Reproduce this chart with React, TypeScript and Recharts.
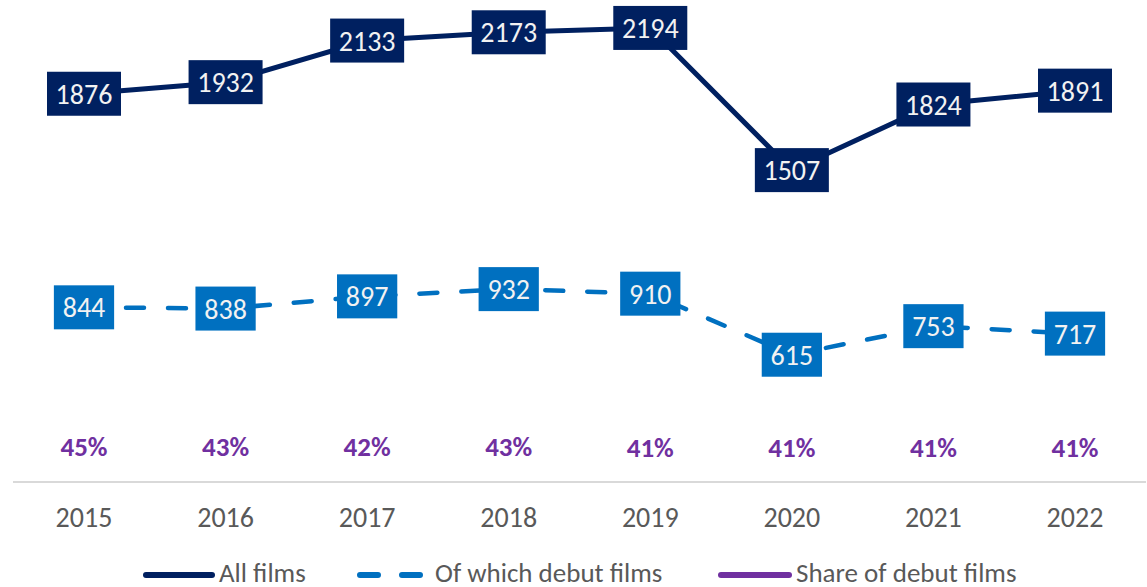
import React from 'react';
import { LineChart, Line, XAxis, YAxis, LabelList } from 'recharts';

// Film counts per year, with the debut share shown as a label row.
const years = ['2015', '2016', '2017', '2018', '2019', '2020', '2021', '2022'];
const allFilms = [1876, 1932, 2133, 2173, 2194, 1507, 1824, 1891];
const debutFilms = [844, 838, 897, 932, 910, 615, 753, 717];
const debutShare = [45, 43, 42, 43, 41, 41, 41, 41];

const NAVY = '#002060';
const BLUE = '#0070C0';
const PURPLE = '#7030A0';
const GREY = '#595959';
const FONT = 'Carlito, Lato, "Open Sans", sans-serif';

const data = years.map((year, i) => ({
  year,
  all: allFilms[i],
  debut: debutFilms[i],
  share: debutShare[i],
}));

const boxLabel = (fill: string) => (props: any) => {
  const { x, y, value } = props;
  const text = String(value);
  const w = text.length * 13.75 + 19;
  const h = 44;
  return (
    <g>
      <rect x={x - w / 2} y={y - h / 2} width={w} height={h} fill={fill} />
      <text
        x={x}
        y={y}
        dy={10}
        textAnchor="middle"
        fill="#f2f2f2"
        fontSize={28}
        fontFamily={FONT}
      >
        {text}
      </text>
    </g>
  );
};

const shareLabel = (props: any) => {
  const { x, y, value } = props;
  return (
    <text
      x={x}
      y={y - 17}
      textAnchor="middle"
      fill={PURPLE}
      fontSize={27}
      fontWeight={700}
      fontFamily={FONT}
    >
      {`${value}%`}
    </text>
  );
};

// legend drawn by hand so it does not eat into the plot area
const Legend: React.FC = () => (
  <svg style={{ position: 'absolute', left: 0, top: 0 }} width={1147} height={587}>
    <g fontFamily={FONT} fontSize={27} fill={GREY}>
      <line x1={146} y1={575} x2={212} y2={575} stroke={NAVY} strokeWidth={6} strokeLinecap="round" />
      <text x={219} y={582}>All films</text>
      <line x1={360} y1={575} x2={424} y2={575} stroke={BLUE} strokeWidth={6} strokeLinecap="round" strokeDasharray="18 24" />
      <text x={435} y={582}>Of which debut films</text>
      <line x1={721} y1={575} x2={789} y2={575} stroke={PURPLE} strokeWidth={6} strokeLinecap="round" />
      <text x={796} y={582}>Share of debut films</text>
    </g>
  </svg>
);

export default function App() {
  return (
    <div style={{ position: 'absolute', left: 0, top: 0, width: 1147, height: 587, background: '#fff', overflow: 'hidden' }}>
      <LineChart width={1147} height={587} data={data} margin={{ top: 6, right: 1, left: 13, bottom: 75 }}>
        <XAxis
          dataKey="year"
          height={30}
          padding={{ left: 71, right: 71 }}
          axisLine={{ stroke: '#d9d9d9', strokeWidth: 2 }}
          tickLine={false}
          tickMargin={19}
          tick={{ fontSize: 28, fill: GREY, fontFamily: FONT }}
        />
        <YAxis hide domain={[0, 2300]} />
        <Line
          dataKey="share"
          stroke="none"
          dot={false}
          activeDot={false}
          isAnimationActive={false}
        >
          <LabelList dataKey="share" content={shareLabel} />
        </Line>
        <Line
          dataKey="debut"
          stroke={BLUE}
          strokeWidth={4.5}
          strokeDasharray="18 24"
          strokeLinecap="round"
          dot={false}
          activeDot={false}
          isAnimationActive={false}
        >
          <LabelList dataKey="debut" content={boxLabel(BLUE)} />
        </Line>
        <Line
          dataKey="all"
          stroke={NAVY}
          strokeWidth={5}
          dot={false}
          activeDot={false}
          isAnimationActive={false}
        >
          <LabelList dataKey="all" content={boxLabel(NAVY)} />
        </Line>
      </LineChart>
      <Legend />
    </div>
  );
}
